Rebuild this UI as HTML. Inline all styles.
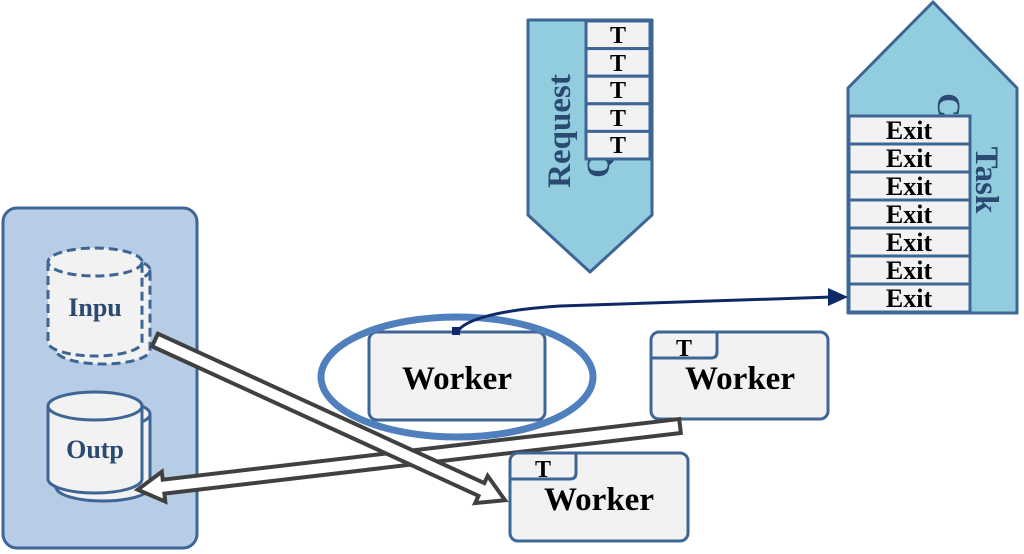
<!DOCTYPE html>
<html><head><meta charset="utf-8"><style>
html,body{margin:0;padding:0;background:#fff;}
svg{display:block;}
text{font-family:"Liberation Serif",serif;font-weight:bold;}
</style></head><body>
<svg width="1024" height="554" viewBox="0 0 1024 554" xmlns="http://www.w3.org/2000/svg">
<rect x="3" y="208" width="194" height="340" rx="14" fill="#b7cde5" stroke="#3d6696" stroke-width="3"/>
<g stroke="#3d6696" stroke-width="3" stroke-dasharray="9,5" fill="#f2f2f2">
<path d="M56,270 L56,350 A47,14 0 0 0 150,350 L150,270 Z"/>
<ellipse cx="103" cy="270" rx="47" ry="14"/>
<path d="M48,262 L48,342 A47,14 0 0 0 142,342 L142,262 Z"/>
<ellipse cx="95" cy="262" rx="47" ry="14"/>
</g>
<text x="95" y="316" font-size="26" fill="#2a4a72" text-anchor="middle">Inpu</text>
<g stroke="#3d6696" stroke-width="3" fill="#f2f2f2">
<path d="M56,414 L56,487 A47,14 0 0 0 150,487 L150,414 Z"/>
<ellipse cx="103" cy="414" rx="47" ry="14"/>
<path d="M48,406 L48,479 A47,14 0 0 0 142,479 L142,406 Z"/>
<ellipse cx="95" cy="406" rx="47" ry="14"/>
</g>
<text x="95" y="458" font-size="26" fill="#2a4a72" text-anchor="middle">Outp</text>
<polygon points="528,20 652,20 652,215 590,272 528,215" fill="#92cddf" stroke="#3d6696" stroke-width="3" stroke-linejoin="round"/>
<text transform="translate(570,131) rotate(-90)" font-size="33" fill="#2a4a72" text-anchor="middle">Request</text>
<text transform="translate(609,165) rotate(-90)" font-size="33" fill="#2a4a72" text-anchor="middle">Q</text>
<g stroke="#3d6696" stroke-width="3" fill="#f2f2f2">
<rect x="586" y="21" width="64" height="27.6"/>
<rect x="586" y="48.6" width="64" height="27.6"/>
<rect x="586" y="76.2" width="64" height="27.6"/>
<rect x="586" y="103.8" width="64" height="27.6"/>
<rect x="586" y="131.4" width="64" height="27.6"/>
</g>
<g font-size="24" fill="#000" text-anchor="middle">
<text x="618" y="43">T</text><text x="618" y="71">T</text><text x="618" y="98">T</text><text x="618" y="126">T</text><text x="618" y="153">T</text>
</g>
<polygon points="848,88 933,2 1017,88 1017,313 848,313" fill="#92cddf" stroke="#3d6696" stroke-width="3" stroke-linejoin="round"/>
<text transform="translate(938,105) rotate(90)" font-size="33" fill="#2a4a72" text-anchor="middle">C</text>
<text transform="translate(976,180) rotate(90)" font-size="33" fill="#2a4a72" text-anchor="middle">Task</text>
<g stroke="#3d6696" stroke-width="3" fill="#f2f2f2">
<rect x="849" y="116" width="121" height="28"/>
<rect x="849" y="144" width="121" height="28"/>
<rect x="849" y="172" width="121" height="28"/>
<rect x="849" y="200" width="121" height="28"/>
<rect x="849" y="228" width="121" height="28"/>
<rect x="849" y="256" width="121" height="28"/>
<rect x="849" y="284" width="121" height="28"/>
</g>
<g font-size="26" fill="#000" text-anchor="middle">
<text x="909" y="139">Exit</text><text x="909" y="167">Exit</text><text x="909" y="195">Exit</text><text x="909" y="223">Exit</text><text x="909" y="251">Exit</text><text x="909" y="279">Exit</text><text x="909" y="307">Exit</text>
</g>
<rect x="369" y="332" width="176" height="88" rx="8" fill="#f2f2f2" stroke="#3d6696" stroke-width="3"/>
<text x="457" y="389" font-size="33" fill="#000" text-anchor="middle">Worker</text>
<rect x="651" y="332" width="177" height="87" rx="8" fill="#f2f2f2" stroke="#3d6696" stroke-width="3"/>
<path d="M651,358 L711,358 Q717,358 717,352 L717,332" fill="none" stroke="#3d6696" stroke-width="3"/>
<text x="684" y="356" font-size="24" fill="#000" text-anchor="middle">T</text>
<text x="740" y="389" font-size="33" fill="#000" text-anchor="middle">Worker</text>
<g fill="#fff" stroke="#404040" stroke-width="4" stroke-linejoin="miter">
<polygon transform="translate(680,426) rotate(173.3)" points="0,-7 520,-7 520,-15 546,0 520,15 520,7 0,7"/>
<polygon transform="translate(155,340) rotate(24.6)" points="0,-7 359,-7 359,-15 385,0 359,15 359,7 0,7"/>
</g>
<rect x="510" y="453" width="178" height="88" rx="8" fill="#f2f2f2" stroke="#3d6696" stroke-width="3"/>
<path d="M510,479 L570,479 Q576,479 576,473 L576,453" fill="none" stroke="#3d6696" stroke-width="3"/>
<text x="543" y="477" font-size="24" fill="#000" text-anchor="middle">T</text>
<text x="599" y="510" font-size="33" fill="#000" text-anchor="middle">Worker</text>
<ellipse cx="457" cy="377" rx="136" ry="60" fill="none" stroke="#4f7fbd" stroke-width="7"/>
<path d="M457,332 Q470,312 560,306 L832,297" fill="none" stroke="#0d2a66" stroke-width="3"/>
<rect x="452" y="327" width="8" height="8" fill="#0d2a66"/>
<polygon points="848,297 828,288 828,306" fill="#0d2a66"/>
</svg>
</body></html>
